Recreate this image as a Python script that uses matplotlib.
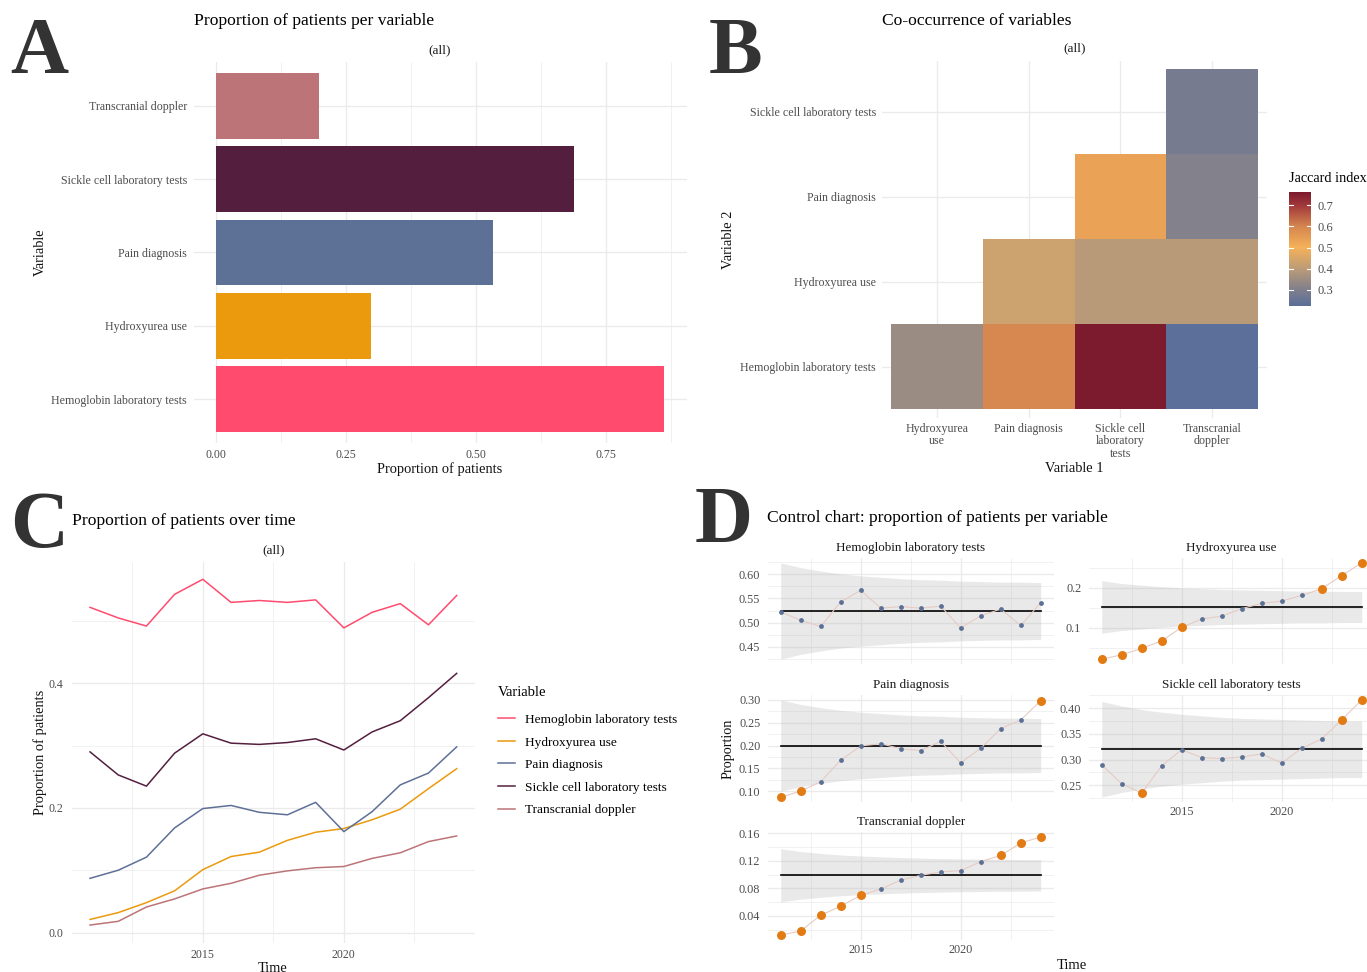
import numpy as np
import matplotlib
matplotlib.use("Agg")
import matplotlib.pyplot as plt
from matplotlib.colors import LinearSegmentedColormap, Normalize
from matplotlib.ticker import MultipleLocator, FormatStrFormatter, FixedLocator

plt.rcParams['font.family'] = ['Liberation Serif', 'DejaVu Serif']

# ----------------------------- DATA -----------------------------
variables = ["Hemoglobin laboratory tests", "Hydroxyurea use", "Pain diagnosis",
             "Sickle cell laboratory tests", "Transcranial doppler"]
var_colors = ["#FF4B6E", "#EB9A0E", "#5D7096", "#541F3F", "#BC7478"]

# Panel A: overall proportion of patients per variable
overall_prop = [0.862, 0.298, 0.533, 0.688, 0.198]

# Panel C / D: yearly proportions
years = [2011, 2012, 2013, 2014, 2015, 2016, 2017, 2018, 2019, 2020, 2021, 2022, 2023, 2024]
hemoglobin = [0.522, 0.505, 0.492, 0.543, 0.567, 0.530, 0.533, 0.530, 0.534, 0.489, 0.514, 0.528, 0.494, 0.541]
hydroxyurea = [0.021, 0.032, 0.048, 0.067, 0.101, 0.122, 0.129, 0.148, 0.161, 0.167, 0.181, 0.198, 0.231, 0.263]
pain = [0.087, 0.100, 0.121, 0.168, 0.199, 0.204, 0.193, 0.189, 0.209, 0.162, 0.194, 0.237, 0.256, 0.298]
sickle = [0.290, 0.253, 0.235, 0.288, 0.319, 0.304, 0.302, 0.305, 0.311, 0.293, 0.322, 0.340, 0.377, 0.416]
transcranial = [0.012, 0.018, 0.041, 0.054, 0.070, 0.079, 0.092, 0.099, 0.104, 0.106, 0.119, 0.128, 0.146, 0.155]

# Panel B: Jaccard index (rows = Variable 2, columns = Variable 1)
jac_var1 = ["Hydroxyurea\nuse", "Pain diagnosis", "Sickle cell\nlaboratory\ntests", "Transcranial\ndoppler"]
jac_var2 = ["Hemoglobin laboratory tests", "Hydroxyurea use", "Pain diagnosis", "Sickle cell laboratory tests"]
jac_hemoglobin = [0.345, 0.595, 0.762, 0.224]
jac_hydroxyurea = [np.nan, 0.428, 0.393, 0.393]
jac_pain = [np.nan, np.nan, 0.535, 0.307]
jac_sickle = [np.nan, np.nan, np.nan, 0.283]
jac_ticks = [0.3, 0.4, 0.5, 0.6, 0.7]

# Panel D: control chart centre lines, control-limit half widths, out-of-control flags
cc_center = [0.524, 0.152, 0.200, 0.320, 0.099]
hw_hemoglobin = [0.100, 0.090, 0.083, 0.077, 0.073, 0.070, 0.067, 0.065, 0.064, 0.062, 0.061, 0.060, 0.060, 0.059]
hw_hydroxyurea = [0.066, 0.059, 0.055, 0.051, 0.048, 0.046, 0.044, 0.043, 0.042, 0.041, 0.040, 0.040, 0.039, 0.039]
hw_pain = [0.100, 0.090, 0.083, 0.077, 0.073, 0.070, 0.067, 0.065, 0.064, 0.062, 0.061, 0.060, 0.060, 0.059]
hw_sickle = [0.093, 0.084, 0.077, 0.072, 0.068, 0.065, 0.062, 0.060, 0.059, 0.058, 0.057, 0.056, 0.055, 0.055]
hw_transcranial = [0.0386, 0.0347, 0.0320, 0.0297, 0.0282, 0.0270, 0.0259, 0.0251, 0.0245, 0.0239, 0.0235, 0.0232, 0.0230, 0.0228]
ooc_hemoglobin = [0, 0, 0, 0, 0, 0, 0, 0, 0, 0, 0, 0, 0, 0]
ooc_hydroxyurea = [1, 1, 1, 1, 1, 0, 0, 0, 0, 0, 0, 1, 1, 1]
ooc_pain = [1, 1, 0, 0, 0, 0, 0, 0, 0, 0, 0, 0, 0, 1]
ooc_sickle = [0, 0, 1, 0, 0, 0, 0, 0, 0, 0, 0, 0, 1, 1]
ooc_transcranial = [1, 1, 1, 1, 1, 0, 0, 0, 0, 0, 0, 1, 1, 1]

# ----------------------------- STYLE -----------------------------
W, H = 1367, 972
fig = plt.figure(figsize=(W / 100, H / 100), dpi=100)
GRID = '#EBEBEB'
TICKC = '#4D4D4D'
TITLE_FS = 12.6
TICK_FS = 8.6
AXT_FS = 10.4


def rect(x0, y0, x1, y1):
    return [x0 / W, 1 - y1 / H, (x1 - x0) / W, (y1 - y0) / H]


def ftext(x, y, s, **kw):
    return fig.text(x / W, 1 - y / H, s, **kw)


def style(ax, ypad=4, xpad=3, size=TICK_FS):
    for sp in ax.spines.values():
        sp.set_visible(False)
    ax.tick_params(which='both', length=0, colors=TICKC, labelsize=size)
    ax.tick_params(axis='y', pad=ypad)
    ax.tick_params(axis='x', pad=xpad)
    ax.set_axisbelow(True)
    ax.grid(True, which='major', color=GRID, lw=1.0)
    ax.grid(True, which='minor', color=GRID, lw=0.5)


def set_labels(ax, r, xlabel=None, xpos=None, ylabel=None, ypos=None, size=AXT_FS):
    x0, y0, x1, y1 = r
    if xlabel is not None:
        ax.set_xlabel(xlabel, fontsize=size, color='#111111')
        ax.xaxis.label.set_va('center')
        ax.xaxis.set_label_coords((xpos[0] - x0) / (x1 - x0), (y1 - xpos[1]) / (y1 - y0))
    if ylabel is not None:
        ax.set_ylabel(ylabel, fontsize=size, color='#111111')
        ax.yaxis.label.set_va('center')
        ax.yaxis.set_label_coords((ypos[0] - x0) / (x1 - x0), (y1 - ypos[1]) / (y1 - y0))


LETTER = dict(fontsize=58, color='#333333', va='baseline', ha='left', fontweight='bold')
ftext(10, 73, 'A', **LETTER)
ftext(709, 73, 'B', **LETTER)
ftext(10, 547, 'C', **LETTER)
ftext(695, 542, 'D', **LETTER)

# ----------------------------- PANEL A -----------------------------
rA = (193.6, 62, 686.6, 443)
axA = fig.add_axes(rect(*rA))
style(axA, ypad=4.8, xpad=4.2)
ypos = np.arange(1, len(variables) + 1)
axA.barh(ypos, overall_prop, height=0.9, color=var_colors)
axA.set_xlim(-0.0431, 0.905)
axA.set_ylim(0.4, 5.6)
axA.set_yticks(ypos)
axA.set_yticklabels(variables)
axA.xaxis.set_major_locator(FixedLocator([0, 0.25, 0.5, 0.75]))
axA.xaxis.set_minor_locator(FixedLocator([0.125, 0.375, 0.625, 0.875]))
axA.xaxis.set_major_formatter(FormatStrFormatter('%.2f'))
axA.set_title('(all)', fontsize=9.6, color='#1A1A1A', pad=6)
ftext(194, 21, 'Proportion of patients per variable', fontsize=TITLE_FS, va='center', ha='left')
set_labels(axA, rA, 'Proportion of patients', (440, 469), 'Variable', (40, 252.5))

# ----------------------------- PANEL B -----------------------------
rB = (882, 61, 1267, 418)
axB = fig.add_axes(rect(*rB))
style(axB, ypad=4.3, xpad=3.4)
jac = np.ma.masked_invalid(np.array([jac_hemoglobin, jac_hydroxyurea, jac_pain, jac_sickle]))
vmin, vmax = float(jac.min()), float(jac.max())
stops = [(0.224, '#5B6F9A'), (0.30, '#7F7F8D'), (0.40, '#BC9C77'), (0.50, '#F5B25A'),
         (0.60, '#D5864F'), (0.70, '#A2383A'), (0.762, '#7C1A2E')]
cmap = LinearSegmentedColormap.from_list(
    'jac', [((v - vmin) / (vmax - vmin), c) for v, c in stops])
norm = Normalize(vmin, vmax)
edges = np.arange(0.5, 5.0, 1.0)
axB.pcolormesh(edges, edges, jac, cmap=cmap, norm=norm, zorder=2)
axB.set_xlim(0.4, 4.6)
axB.set_ylim(0.4, 4.6)
axB.set_xticks(np.arange(1, 5))
axB.set_xticklabels(jac_var1, linespacing=1.05)
axB.set_yticks(np.arange(1, 5))
axB.set_yticklabels(jac_var2)
axB.set_title('(all)', fontsize=9.6, color='#1A1A1A', pad=7)
ftext(882, 21, 'Co-occurrence of variables', fontsize=TITLE_FS, va='center', ha='left')
set_labels(axB, rB, 'Variable 1', (1074.5, 469), 'Variable 2', (728, 239.5))

# colourbar
rCB = (1289, 192, 1311, 306)
cax = fig.add_axes(rect(*rCB))
grad = np.linspace(vmin, vmax, 256).reshape(-1, 1)
cax.imshow(grad, extent=[0, 1, vmin, vmax], origin='lower', aspect='auto', cmap=cmap, norm=norm)
cax.set_xlim(0, 1)
cax.set_ylim(vmin, vmax)
for sp in cax.spines.values():
    sp.set_visible(False)
cax.set_xticks([])
cax.yaxis.tick_right()
cax.set_yticks(jac_ticks)
cax.set_yticklabels([f'{t:.1f}' for t in jac_ticks])
cax.tick_params(axis='y', length=0, pad=5, labelsize=9, colors=TICKC)
for t in jac_ticks:
    cax.plot([0, 0.2], [t, t], color='white', lw=0.8)
    cax.plot([0.8, 1], [t, t], color='white', lw=0.8)
ftext(1289, 179, 'Jaccard index', fontsize=10.3, va='center', ha='left')

# ----------------------------- PANEL C -----------------------------
rC = (71.7, 562, 475, 943)
axC = fig.add_axes(rect(*rC))
style(axC, ypad=6.0, xpad=4.0)
series = [hemoglobin, hydroxyurea, pain, sickle, transcranial]
handles = []
for name, s, c in zip(variables, series, var_colors):
    ln, = axC.plot(years, s, color=c, lw=1.1, label=name)
    handles.append(ln)
axC.set_xlim(2010.35, 2024.65)
axC.set_ylim(-0.0168, 0.5948)
axC.xaxis.set_major_locator(FixedLocator([2015, 2020]))
axC.xaxis.set_minor_locator(FixedLocator([2012.5, 2017.5, 2022.5]))
axC.yaxis.set_major_locator(FixedLocator([0.0, 0.2, 0.4]))
axC.yaxis.set_minor_locator(FixedLocator([0.1, 0.3, 0.5]))
axC.yaxis.set_major_formatter(FormatStrFormatter('%.1f'))
axC.set_title('(all)', fontsize=9.6, color='#1A1A1A', pad=6)
ftext(72, 521, 'Proportion of patients over time', fontsize=TITLE_FS, va='center', ha='left')
set_labels(axC, rC, 'Time', (273, 968), 'Proportion of patients', (40, 752.5))
leg = fig.legend(handles=handles, labels=variables, loc='upper left',
                 bbox_to_anchor=(498 / W, 1 - 686 / H), frameon=False, title='Variable',
                 alignment='left', fontsize=9.6, title_fontsize=10.5, handlelength=1.3,
                 handletextpad=0.75, labelspacing=0.77, borderpad=0, borderaxespad=0)
leg._legend_box.sep = 10.5

# ----------------------------- PANEL D -----------------------------
ftext(767, 518, 'Control chart: proportion of patients per variable', fontsize=TITLE_FS,
      va='center', ha='left')
col_x = [(767.7, 1053.7), (1088.7, 1374.7)]
row_y = [(558, 664), (695, 802), (832, 940)]
cells = [(0, 0), (0, 1), (1, 0), (1, 1), (2, 0)]
halfwidths = [hw_hemoglobin, hw_hydroxyurea, hw_pain, hw_sickle, hw_transcranial]
flags = [ooc_hemoglobin, ooc_hydroxyurea, ooc_pain, ooc_sickle, ooc_transcranial]
ysteps = [0.05, 0.1, 0.05, 0.05, 0.04]
yfmts = ['%.2f', '%.1f', '%.2f', '%.2f', '%.2f']
bottom_cells = {(1, 1), (2, 0)}
for i, name in enumerate(variables):
    r, c = cells[i]
    rr = (col_x[c][0], row_y[r][0], col_x[c][1], row_y[r][1])
    ax = fig.add_axes(rect(*rr))
    style(ax, ypad=5.3, xpad=3.2, size=8.8)
    y = np.array(series[i])
    hw = np.array(halfwidths[i])
    ctr = cc_center[i]
    ax.fill_between(years, ctr - hw, ctr + hw, color='#B3B3B3', alpha=0.28, lw=0, zorder=1)
    ax.plot([years[0], years[-1]], [ctr, ctr], color='black', lw=1.2, zorder=2)
    ax.plot(years, y, color='#E6CBC4', lw=0.8, zorder=3)
    fl = np.array(flags[i]).astype(bool)
    yrs = np.array(years)
    ax.scatter(yrs[~fl], y[~fl], s=12, color='#5B7095', zorder=4, linewidths=0)
    ax.scatter(yrs[fl], y[fl], s=42, color='#E37B14', zorder=5, linewidths=0)
    ax.set_xlim(2010.35, 2024.65)
    ax.margins(y=0.05)
    ax.yaxis.set_major_locator(MultipleLocator(ysteps[i]))
    ax.yaxis.set_minor_locator(MultipleLocator(ysteps[i] / 2))
    ax.yaxis.set_major_formatter(FormatStrFormatter(yfmts[i]))
    ax.xaxis.set_major_locator(FixedLocator([2015, 2020]))
    ax.xaxis.set_minor_locator(FixedLocator([2012.5, 2017.5, 2022.5]))
    if (r, c) not in bottom_cells:
        ax.set_xticklabels([])
    ax.set_title(name, fontsize=9.45, color='#1A1A1A', pad=5)

ftext(1072, 965, 'Time', fontsize=10.5, va='center', ha='center', color='#111111')
ftext(728, 749, 'Proportion', fontsize=10.2, va='center', ha='center', rotation=90, color='#111111')

fig.savefig('out.png', dpi=100)
